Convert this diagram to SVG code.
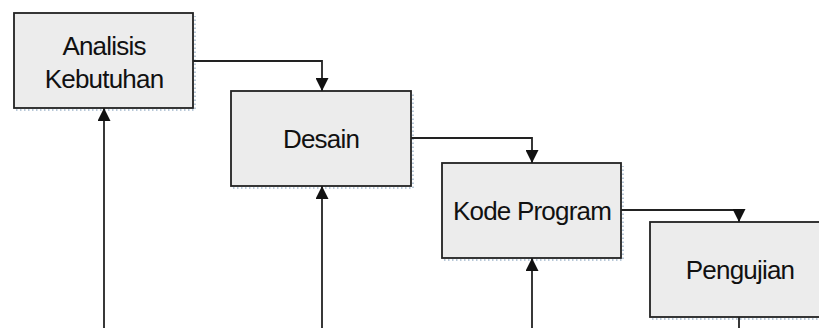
<svg xmlns="http://www.w3.org/2000/svg" width="819" height="328" viewBox="0 0 819 328">
<style>
.box{fill:#ececec;stroke:#222;stroke-width:1.8}
.sh{fill:none;stroke:#b8c8d8;stroke-width:2;stroke-dasharray:1.5 2.5}
.lbl{font-family:"Liberation Sans",Arial,sans-serif;font-size:26px;fill:#111;text-anchor:middle;letter-spacing:-0.8px}
.con{fill:none;stroke:#222;stroke-width:1.8}
</style>
<defs>
<marker id="ah" viewBox="0 0 10 10" refX="10" refY="5" markerWidth="14" markerHeight="13" markerUnits="userSpaceOnUse" orient="auto">
<path d="M0,0 L10,5 L0,10 z" fill="#111"/>
</marker>
</defs>
<rect width="819" height="328" fill="#fff"/>
<g id="n1">
<path class="sh" d="M16,110 H195 V16"/>
<rect class="box" x="14" y="13" width="179" height="95"/>
<text class="lbl" x="104" y="55">Analisis</text>
<text class="lbl" x="104" y="88">Kebutuhan</text>
</g>
<g id="n2">
<path class="sh" d="M233,188 H413 V94"/>
<rect class="box" x="231" y="91" width="180" height="95"/>
<text class="lbl" x="321" y="148">Desain</text>
</g>
<g id="n3">
<path class="sh" d="M444,260 H623 V166"/>
<rect class="box" x="442" y="163" width="179" height="95"/>
<text class="lbl" x="532" y="220">Kode Program</text>
</g>
<g id="n4">
<path class="sh" d="M652,319 H831"/>
<rect class="box" x="650" y="222" width="179" height="95"/>
<text class="lbl" x="740" y="279">Pengujian</text>
</g>
<g id="connectors">
<path class="con" d="M193,61 H322 V91" marker-end="url(#ah)"/>
<path class="con" d="M411,138 H532 V163" marker-end="url(#ah)"/>
<path class="con" d="M621,210 H739 V222" marker-end="url(#ah)"/>
<path class="con" d="M104,328 V108" marker-end="url(#ah)"/>
<path class="con" d="M322,328 V186" marker-end="url(#ah)"/>
<path class="con" d="M532,328 V258" marker-end="url(#ah)"/>
<path class="con" d="M739,317 V328"/>
</g>
</svg>
